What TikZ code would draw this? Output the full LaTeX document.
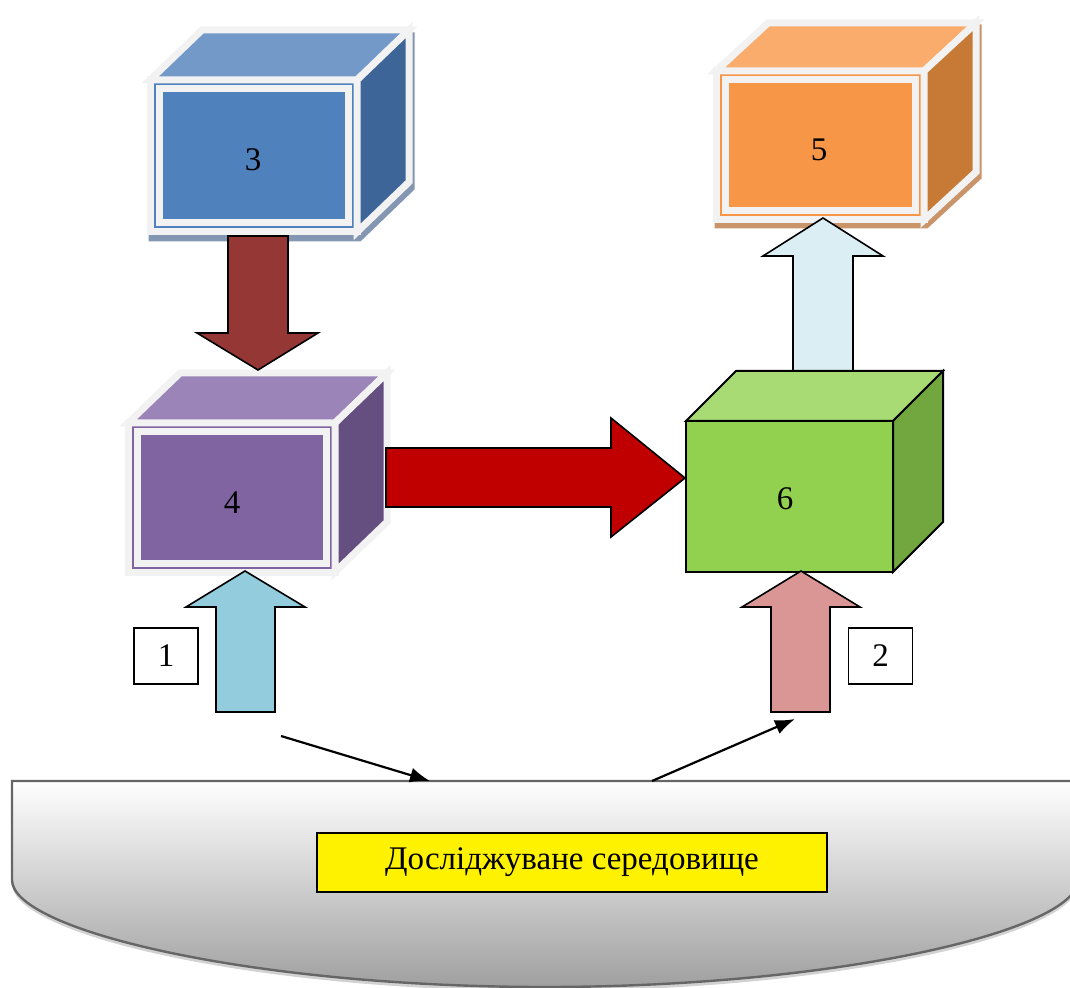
\documentclass[tikz,border=0pt]{standalone}
\usepackage{fontspec}
\setmainfont{Liberation Serif}
\usetikzlibrary{arrows.meta}
\definecolor{frameW}{HTML}{F2F2F2}
\definecolor{blueF}{HTML}{4F81BD}
\definecolor{blueT}{HTML}{7399C9}
\definecolor{blueS}{HTML}{3E6597}
\definecolor{blueSh}{HTML}{8396B2}
\definecolor{purpleF}{HTML}{8064A2}
\definecolor{purpleT}{HTML}{9B84B7}
\definecolor{purpleS}{HTML}{654F80}
\definecolor{orangeF}{HTML}{F79646}
\definecolor{orangeT}{HTML}{F9AC6C}
\definecolor{orangeS}{HTML}{C67A36}
\definecolor{orangeSh}{HTML}{C99469}
\definecolor{greenF}{HTML}{92D050}
\definecolor{greenT}{HTML}{A9DB74}
\definecolor{greenS}{HTML}{71A73E}
\definecolor{darkredA}{HTML}{953735}
\definecolor{redA}{HTML}{C00000}
\definecolor{cyanA}{HTML}{93CDDD}
\definecolor{pinkA}{HTML}{D99694}
\definecolor{paleA}{HTML}{DBEEF4}
\tikzset{
  frame/.style={draw=frameW, line width=3.5pt, line join=miter},
  edge6/.style={draw=black, line width=1pt, line join=miter},
  blockarrow/.style={draw=black, line width=0.8pt, line join=miter},
  lbl/.style={font=\fontsize{16.5}{20}\selectfont},
  numbox/.style={lbl, draw, line width=0.8pt, fill=white, minimum width=32pt, minimum height=28pt},
  thinarrow/.style={line width=1.1pt, -{Latex[length=10pt,width=7.5pt]}}
}
\begin{document}
\begin{tikzpicture}[x=0.5pt,y=-0.5pt]
  \useasboundingbox (0,0) rectangle (1070,988);
  % environment
  \fill[gray!35, shift={(0,4)}] (12,880) .. controls (12,930) and (250,987) .. (545,987) .. controls (840,987) and (1078,930) .. (1078,880) -- (1078,870) -- (12,870) -- cycle;
  \shade[top color=white, bottom color=gray!75] (12,781) -- (12,880) .. controls (12,930) and (250,987) .. (545,987) .. controls (840,987) and (1078,930) .. (1078,880) -- (1078,781) -- cycle;
  \draw[black!60, line width=1.2pt] (12,781) -- (12,880) .. controls (12,930) and (250,987) .. (545,987) .. controls (840,987) and (1078,930) .. (1078,880) -- (1078,781) -- cycle;
  \node[lbl, draw, line width=0.8pt, fill=yellow, minimum width=255pt, minimum height=29.5pt] (env) at (572,862.5) {Досліджуване середовище};
  % cube 3
  \filldraw[frame, draw=blueSh, fill=blueSh, shift={(2,6)}] (150,80) -- (202,30) -- (409,30) -- (409,182) -- (357,232) -- (150,232) -- cycle;
  \filldraw[frame, fill=blueF] (150,80) rectangle (357,232);
  \filldraw[frame, fill=blueT] (150,80) -- (202,30) -- (409,30) -- (357,80) -- cycle;
  \filldraw[frame, fill=blueS] (357,80) -- (409,30) -- (409,182) -- (357,232) -- cycle;
  \draw[frame] (159,89) rectangle (348,223);
  \node[lbl] (c3) at (253,160) {3};
  % cube 4
  \filldraw[frame, fill=purpleF] (128,423) rectangle (335,572);
  \filldraw[frame, fill=purpleT] (128,423) -- (180,373) -- (387,373) -- (335,423) -- cycle;
  \filldraw[frame, fill=purpleS] (335,423) -- (387,373) -- (387,522) -- (335,572) -- cycle;
  \draw[frame] (137,432) rectangle (326,563);
  \node[lbl] (c4) at (232,503) {4};
  % cube 5
  \filldraw[frame, draw=orangeSh, fill=orangeSh, shift={(2,5)}] (716,71) -- (768,23) -- (976,23) -- (976,172) -- (924,220) -- (716,220) -- cycle;
  \filldraw[frame, fill=orangeF] (716,71) rectangle (924,220);
  \filldraw[frame, fill=orangeT] (716,71) -- (768,23) -- (976,23) -- (924,71) -- cycle;
  \filldraw[frame, fill=orangeS] (924,71) -- (976,23) -- (976,172) -- (924,220) -- cycle;
  \draw[frame] (725,80) rectangle (915,211);
  \node[lbl] (c5) at (819,150) {5};
  % block arrows
  \filldraw[blockarrow, fill=darkredA] (228,236) -- (288,236) -- (288,333) -- (318,333) -- (258,370) -- (197,333) -- (228,333) -- cycle;
  \filldraw[blockarrow, fill=redA] (386,448) -- (611,448) -- (611,418) -- (685,478) -- (611,537) -- (611,507) -- (386,507) -- cycle;
  \filldraw[blockarrow, fill=paleA] (793,380) -- (793,256) -- (763,256) -- (823,218) -- (883,256) -- (853,256) -- (853,380) -- cycle;
  % cube 6
  \filldraw[edge6, fill=greenF] (686,421) rectangle (893,572);
  \filldraw[edge6, fill=greenT] (686,421) -- (736,371) -- (943,371) -- (893,421) -- cycle;
  \filldraw[edge6, fill=greenS] (893,421) -- (943,371) -- (943,522) -- (893,572) -- cycle;
  \node[lbl] (c6) at (785,499) {6};
  % input arrows
  \filldraw[blockarrow, fill=cyanA] (216,712) -- (216,607) -- (186,607) -- (245,571) -- (305,607) -- (275,607) -- (275,712) -- cycle;
  \filldraw[blockarrow, fill=pinkA] (771,712) -- (771,607) -- (742,607) -- (801,571) -- (860,607) -- (830,607) -- (830,712) -- cycle;
  \node[numbox] (n1) at (166,656) {1};
  \node[numbox] (n2) at (880.5,656) {2};
  % thin arrows
  \coordinate (s1) at (281,736);
  \coordinate (e1) at (430,781);
  \coordinate (s2) at (652,781);
  \coordinate (e2) at (795,719);
  \draw[thinarrow] (s1) -- (e1);
  \draw[thinarrow] (s2) -- (e2);
\end{tikzpicture}
\end{document}
